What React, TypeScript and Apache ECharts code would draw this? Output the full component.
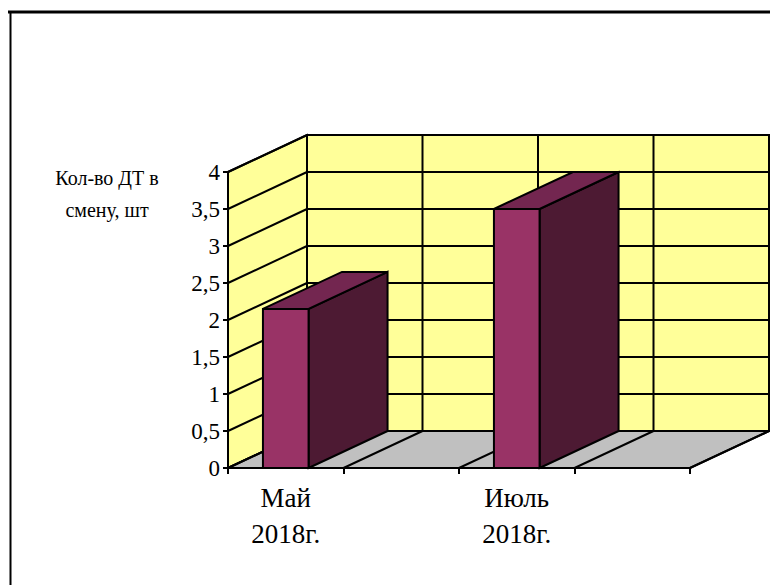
import React, { useEffect, useRef } from "react";
import * as echarts from "echarts";

const categories = ["Май\n2018г.", "", "Июль\n2018г.", ""];
const barValues: (number | null)[] = [2.15, null, 3.5, null];
const yTicks = [0, 0.5, 1, 1.5, 2, 2.5, 3, 3.5, 4];
const axisTitle = "Кол-во ДТ в\nсмену, шт";

const DX = 79;
const DY = -37;
const WALL = "#FFFF99";
const FLOOR = "#C0C0C0";
const FRONT = "#993366";
const TOP = "#732650";
const SIDE = "#4D1A33";
const FONT = '"Liberation Serif", "Times New Roman", serif';
const ink = { stroke: "#000", lineWidth: 2 };

function poly(points: number[][], fill: string) {
  return { type: "polygon", shape: { points }, style: { fill, ...ink } };
}
function seg(x1: number, y1: number, x2: number, y2: number) {
  return { type: "line", shape: { x1, y1, x2, y2 }, style: { ...ink, fill: "none" } };
}

function renderRoom(params: any, api: any) {
  const c = params.coordSys;
  const L = c.x, R = c.x + c.width, T = c.y, B = c.y + c.height;
  const children: any[] = [
    poly([[L + DX, B + DY], [R + DX, B + DY], [R + DX, T + DY], [L + DX, T + DY]], WALL),
    poly([[L, B], [L + DX, B + DY], [L + DX, T + DY], [L, T]], WALL),
    poly([[L, B], [R, B], [R + DX, B + DY], [L + DX, B + DY]], FLOOR),
  ];
  yTicks.forEach((v) => {
    const y = api.coord([0, v])[1];
    children.push(seg(L, y, L + DX, y + DY));
    children.push(seg(L + DX, y + DY, R + DX, y + DY));
  });
  const band = c.width / categories.length;
  categories.forEach((_, i) => {
    const x = L + band * (i + 1);
    children.push(seg(x, B, x + DX, B + DY));
    children.push(seg(x + DX, B + DY, x + DX, T + DY));
  });
  return { type: "group", children };
}

function renderBar(_params: any, api: any) {
  const value = api.value(1);
  const [cx, y] = api.coord([api.value(0), value]);
  const base = api.coord([api.value(0), 0])[1];
  const w = api.size([1, 0])[0] * 0.395;
  const x0 = cx - w / 2, x1 = cx + w / 2;
  return {
    type: "group",
    children: [
      poly([[x1, base], [x1 + DX, base + DY], [x1 + DX, y + DY], [x1, y]], SIDE),
      poly([[x0, y], [x1, y], [x1 + DX, y + DY], [x0 + DX, y + DY]], TOP),
      poly([[x0, base], [x1, base], [x1, y], [x0, y]], FRONT),
    ],
  };
}

export default function App() {
  const ref = useRef<HTMLDivElement>(null);
  useEffect(() => {
    const chart = echarts.init(ref.current!, null, { renderer: "svg" });
    chart.setOption({
      animation: false,
      backgroundColor: "#fff",
      grid: { left: 228, right: 80, top: 172, bottom: 117 },
      xAxis: {
        type: "category",
        data: categories,
        boundaryGap: true,
        axisLine: { lineStyle: { color: "#000", width: 2 } },
        axisTick: { show: true, length: 6, alignWithLabel: false, interval: 0, lineStyle: { color: "#000", width: 2 } },
        axisLabel: { interval: 0, color: "#000", fontFamily: FONT, fontSize: 27, lineHeight: 36, margin: 12 },
      },
      yAxis: {
        type: "value",
        min: 0,
        max: 4,
        interval: 0.5,
        splitLine: { show: false },
        axisLine: { show: true, lineStyle: { color: "#000", width: 2 } },
        axisTick: { show: true, length: 5, lineStyle: { color: "#000", width: 2 } },
        axisLabel: {
          color: "#000",
          fontFamily: FONT,
          fontSize: 23,
          margin: 8,
          formatter: (v: number) => String(v).replace(".", ","),
        },
      },
      graphic: [
        { type: "line", shape: { x1: 8, y1: 12, x2: 770, y2: 12 }, style: { stroke: "#000", lineWidth: 3 } },
        { type: "line", shape: { x1: 10.5, y1: 12, x2: 10.5, y2: 585 }, style: { stroke: "#000", lineWidth: 2 } },
        {
          type: "text",
          x: 107,
          y: 194,
          style: {
            text: axisTitle,
            fill: "#000",
            font: `20px ${FONT}`,
            lineHeight: 32,
            align: "center",
            verticalAlign: "middle",
          },
        },
      ],
      series: [
        { type: "custom", renderItem: renderRoom, data: [[0, 0]], z: 1, silent: true },
        {
          type: "custom",
          renderItem: renderBar,
          data: barValues.map((v, i) => [i, v]).filter((d) => d[1] !== null),
          encode: { x: 0, y: 1 },
          z: 2,
          silent: true,
        },
      ],
    });
    return () => chart.dispose();
  }, []);
  return <div ref={ref} style={{ position: "absolute", left: 0, top: 0, width: 770, height: 585 }} />;
}
